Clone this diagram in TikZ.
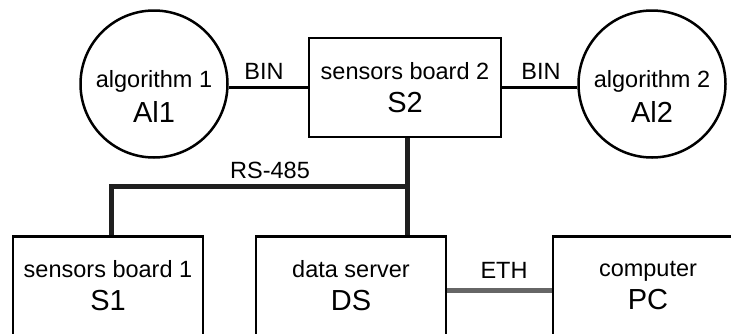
\documentclass[tikz,border=0pt]{standalone}
\usepackage{fontspec}
\setmainfont{Liberation Sans}
\begin{document}
\begin{tikzpicture}[x=1pt,y=-1pt,
  boxnode/.style={draw=black,line width=2.5pt,minimum width=190pt,minimum height=99pt,inner sep=0pt,align=center,font=\fontsize{23.5}{33}\selectfont},
  algnode/.style={draw=black,line width=2.5pt,circle,minimum size=147pt,inner sep=0pt},
  algtext/.style={align=center,inner sep=0pt,font=\fontsize{23.5}{35}\selectfont},
  thinline/.style={line width=2.5pt,draw=black},
  busline/.style={line width=5pt,draw=black!88},
  ethline/.style={line width=5pt,draw=black!60},
  lbl/.style={inner sep=0pt,font=\fontsize{23.5}{28}\selectfont}]
\useasboundingbox (0,0) rectangle (731,333);
\clip (0,0) rectangle (731,333);
\fill[white] (0,0) rectangle (731,333);
% circles
\node[algnode] (A1) at (154,84) {};
\node[algtext] (A1t) at (154,96) {algorithm 1\\{\fontsize{29}{35}\selectfont Al1}};
\node[algnode] (A2) at (652,84) {};
\node[algtext] (A2t) at (652,96) {algorithm 2\\{\fontsize{29}{35}\selectfont Al2}};
% boxes
\node[boxnode,minimum width=192pt] (S2) at (405,87.5) {sensors board 2\\{\fontsize{29}{33}\selectfont S2}};
\node[boxnode] (S1) at (108,286) {sensors board 1\\{\fontsize{29}{33}\selectfont S1}};
\node[boxnode] (DS) at (351,286) {data server\\{\fontsize{29}{33}\selectfont DS}};
\node[boxnode] (PC) at (648,286) {computer\\{\fontsize{29}{33}\selectfont PC}};
% labels
\node[lbl] (bin1) at (264,71) {BIN};
\node[lbl] (bin2) at (541,71) {BIN};
\node[lbl] (rs) at (270,170) {RS-485};
\node[lbl] (eth) at (504,270) {ETH};
% connectors
\draw[thinline] (A1.east |- S2.west) -- (S2.west);
\draw[thinline] (S2.east) -- (A2.west |- S2.east);
\coordinate (bus) at (407,186);
\coordinate (s1tap) at ([xshift=3pt]S1.north);
\draw[busline] (S2.south -| bus) -- (DS.north -| bus);
\draw[busline] (bus) -- (bus -| s1tap) -- (s1tap);
\coordinate (ethL) at ([yshift=-4pt]DS.east);
\draw[ethline] (ethL) -- (ethL -| PC.west);
\end{tikzpicture}
\end{document}
